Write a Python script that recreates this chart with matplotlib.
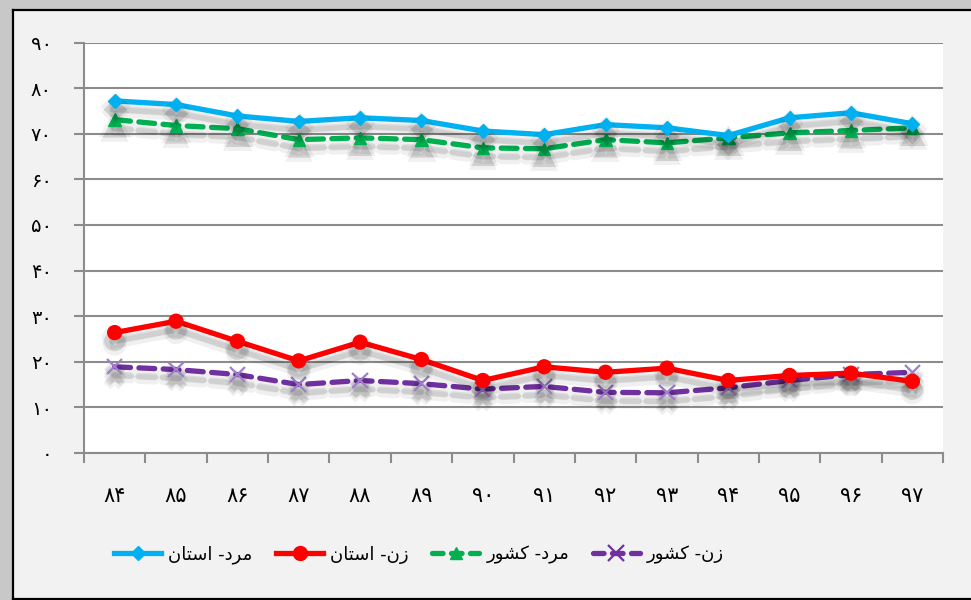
import matplotlib
matplotlib.use("Agg")
import matplotlib.pyplot as plt
import matplotlib.patheffects as pe
from matplotlib.lines import Line2D
from matplotlib.patches import Rectangle

plt.rcParams['font.family'] = ['DejaVu Sans']

# Years (Persian calendar) and rates per group
years = ['۸۴', '۸۵', '۸۶', '۸۷', '۸۸', '۸۹', '۹۰', '۹۱', '۹۲', '۹۳', '۹۴', '۹۵', '۹۶', '۹۷']
men_province = [77.2, 76.4, 73.9, 72.7, 73.5, 72.9, 70.6, 69.8, 72.0, 71.3, 69.6, 73.5, 74.6, 72.2]
women_province = [26.4, 28.9, 24.5, 20.2, 24.3, 20.5, 15.9, 18.9, 17.7, 18.6, 15.9, 17.0, 17.5, 15.7]
men_country = [73.1, 71.8, 71.1, 68.7, 69.1, 68.7, 66.9, 66.7, 68.7, 68.0, 69.1, 70.2, 70.7, 71.3]
women_country = [18.9, 18.3, 17.2, 15.0, 15.9, 15.2, 14.0, 14.6, 13.3, 13.2, 14.3, 15.9, 17.2, 17.7]
yticks = [0, 10, 20, 30, 40, 50, 60, 70, 80, 90]
ytick_labels = ['۰', '۱۰', '۲۰', '۳۰', '۴۰', '۵۰', '۶۰', '۷۰', '۸۰', '۹۰']

# legend labels, already shaped and in visual order
labels = ['ﻥﺎﺘﺳﺍ -ﺩﺮﻣ', 'ﻥﺎﺘﺳﺍ -ﻥﺯ', 'ﺭﻮﺸﮐ -ﺩﺮﻣ', 'ﺭﻮﺸﮐ -ﻥﺯ']

fig = plt.figure(figsize=(9.71, 6.0), dpi=100, facecolor='#f2f2f2')

# outer frame
fig.patches.append(Rectangle((0, 0), 12 / 971, 1, transform=fig.transFigure,
                             facecolor='#c8c8c8', edgecolor='none', zorder=0))
fig.patches.append(Rectangle((0, 1 - 9 / 600), 1, 9 / 600, transform=fig.transFigure,
                             facecolor='#c8c8c8', edgecolor='none', zorder=0))
fig.add_artist(Line2D([12.5 / 971, 12.5 / 971], [0, 1 - 9.5 / 600], color='black', lw=1.6,
                      transform=fig.transFigure))
fig.add_artist(Line2D([12.5 / 971, 1], [1 - 9.5 / 600, 1 - 9.5 / 600], color='black', lw=1.6,
                      transform=fig.transFigure))
fig.add_artist(Line2D([12.5 / 971, 1], [1.5 / 600, 1.5 / 600], color='black', lw=1.6,
                      transform=fig.transFigure))

ax = fig.add_axes([84 / 971, 147 / 600, 859 / 971, 410.5 / 600])
ax.set_facecolor('white')
x = list(range(len(years)))


def shadow():
    # soft grey drop shadow under each series
    return [pe.SimpleLineShadow(offset=(0, -4), shadow_color='black', alpha=0.06, linewidth=8),
            pe.SimpleLineShadow(offset=(0, -6), shadow_color='black', alpha=0.08, linewidth=5),
            pe.SimpleLineShadow(offset=(0, -8), shadow_color='black', alpha=0.06, linewidth=7),
            pe.Normal()]


ax.plot(x, men_province, color='#00b0f0', lw=3.8, marker='D', ms=7,
        solid_joinstyle='round', path_effects=shadow(), zorder=4)
ax.plot(x, women_province, color='#ff0000', lw=3.8, marker='o', ms=10,
        solid_joinstyle='round', path_effects=shadow(), zorder=4)
ax.plot(x, men_country, color='#00b050', lw=3.8, ls=(0, (3, 1.6)), marker='^', ms=9,
        dash_capstyle='round', path_effects=shadow(), zorder=3)
ax.plot(x, women_country, color='#7030a0', lw=3.8, ls=(0, (3, 1.6)), marker='x', ms=11,
        mew=1.6, mec='#9f7fcc', dash_capstyle='round', path_effects=shadow(), zorder=3)

ax.set_xlim(-0.5, len(years) - 0.5)
ax.set_ylim(0, 90)
ax.set_yticks(yticks)
ax.set_yticklabels(ytick_labels, fontsize=14)
ax.set_xticks(x)
ax.set_xticklabels(years, fontsize=15)
ax.set_xticks([i - 0.5 for i in range(len(years) + 1)], minor=True)
ax.tick_params(axis='x', which='major', length=0, pad=24)
ax.tick_params(axis='x', which='minor', length=7, width=1.5, color='#8c8c8c')
ax.tick_params(axis='y', length=7, width=1.5, color='#8c8c8c', pad=16)
ax.grid(axis='y', color='#8c8c8c', lw=1.5)
ax.set_axisbelow(True)
for side in ['top', 'right']:
    ax.spines[side].set_visible(False)
for side in ['left', 'bottom']:
    ax.spines[side].set_color('#8c8c8c')
    ax.spines[side].set_linewidth(1.5)

handles = [
    Line2D([], [], color='#00b0f0', lw=3.8, marker='D', ms=7),
    Line2D([], [], color='#ff0000', lw=3.8, marker='o', ms=10),
    Line2D([], [], color='#00b050', lw=3.8, ls=(0, (2, 1.6)), marker='^', ms=9, dash_capstyle='round'),
    Line2D([], [], color='#7030a0', lw=3.8, ls=(0, (2, 1.6)), marker='x', ms=11, mew=1.6,
           dash_capstyle='round'),
]
fig.legend(handles, labels, ncol=4, loc='center left', bbox_to_anchor=(98 / 971, 45 / 600),
           frameon=False, fontsize=13, handlelength=2.6, handletextpad=0.4, columnspacing=1.3)

fig.savefig('out.png', dpi=100, facecolor=fig.get_facecolor())
